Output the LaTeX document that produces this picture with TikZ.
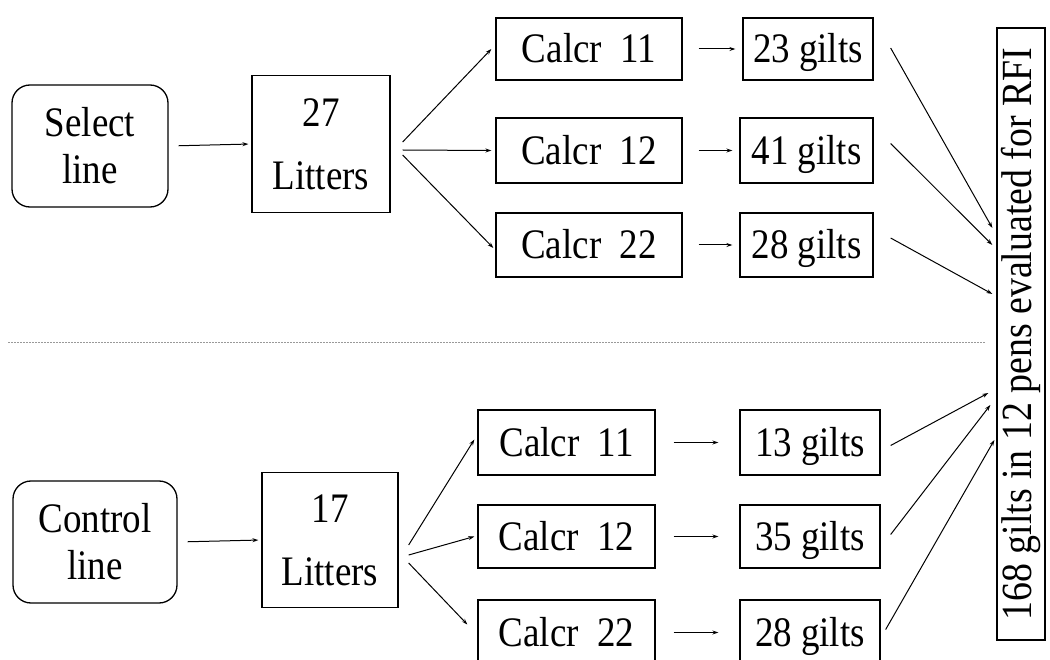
\documentclass[tikz,border=0pt]{standalone}
\usepackage{fontspec}
\setmainfont{Liberation Serif}
\newfontfamily\bxfont{Liberation Serif}[FakeStretch=0.88]
\usetikzlibrary{arrows.meta,calc}
\begin{document}
\begin{tikzpicture}[x=1pt,y=-1pt,
  box/.style={draw,line width=1.3pt,inner sep=0pt,font=\bxfont\fontsize{42}{47}\selectfont,text height=28pt,text depth=0pt},
  mbox/.style={draw,line width=1.3pt,inner sep=0pt,align=center},
  rbox/.style={mbox,rounded corners=18pt,font=\bxfont\fontsize{42}{47}\selectfont},
  lbox/.style={mbox,font=\bxfont\fontsize{42}{63}\selectfont},
  arr/.style={line width=1pt,-{Stealth[length=6pt,width=4pt]}},
  sep/.style={gray!80,line width=1pt,dash pattern=on 1.5pt off 1.5pt}]
\useasboundingbox (0,0) rectangle (1050,660);
\clip (0,0) rectangle (1050,660);
% Select line section
\node[rbox,minimum width=156,minimum height=122] (sel) at (90,146) {Select\\line};
\node[lbox,minimum width=138,minimum height=137] (lit1) at (321,144) {27\\Litters};
\node[box,minimum width=186,minimum height=62] (sa) at (589,49) {Calcr~~11};
\node[box,minimum width=186,minimum height=65] (sb) at (589,150.5) {Calcr~~12};
\node[box,minimum width=186,minimum height=64] (sc) at (589,245) {Calcr~~22};
\node[box,minimum width=130,minimum height=62] (ga) at (808,49) {23 gilts};
\node[box,minimum width=133,minimum height=65] (gb) at (806.5,150.5) {41 gilts};
\node[box,minimum width=133,minimum height=64] (gc) at (806.5,245) {28 gilts};
% Control line section
\node[rbox,minimum width=164,minimum height=122] (con) at (95,542) {Control\\line};
\node[lbox,minimum width=136,minimum height=135] (lit2) at (330,540) {17\\Litters};
\node[box,minimum width=177,minimum height=65] (ca) at (566.5,442.5) {Calcr~~11};
\node[box,minimum width=177,minimum height=63] (cb) at (566.5,536.5) {Calcr~~12};
\node[box,minimum width=177,minimum height=65] (cc) at (566.5,632.5) {Calcr~~22};
\node[box,minimum width=140,minimum height=65] (ha) at (810,442.5) {13 gilts};
\node[box,minimum width=140,minimum height=63] (hb) at (810,536.5) {35 gilts};
\node[box,minimum width=140,minimum height=65] (hc) at (810,632.5) {28 gilts};
% Right box
\node[box,rotate=90,minimum width=612,minimum height=48,font=\bxfont\fontsize{43}{50}\selectfont,text height=29pt,text depth=9pt] (rfi) at (1021,334) {168 gilts in 12 pens evaluated for RFI};
% separator
\coordinate (l) at (8,343);
\coordinate (r) at (985,343);
\draw[sep] (l) -- (r);
% arrows top
\draw[arr,shorten <=10pt,shorten >=3pt] (sel.east) -- (lit1.west);
\draw[arr] ($(lit1.east)+(12,-2)$) -- ($(sa.west)+(-4,0)$);
\draw[arr] ($(lit1.east)+(12,6)$) -- ($(sb.west)+(-4,0)$);
\draw[arr] ($(lit1.east)+(12,11)$) -- ($(sc.west)+(-2,3)$);
\draw[arr,shorten <=16pt,shorten >=7pt] (sa.east) -- (ga.west);
\draw[arr,shorten <=16pt,shorten >=7pt] (sb.east) -- (gb.west);
\draw[arr,shorten <=16pt,shorten >=7pt] (sc.east) -- (gc.west);
\draw[arr] ($(ga.east)+(17,-1)$) -- ($(rfi.north)+(-4,-106)$);
\draw[arr] ($(gb.east)+(17,-7)$) -- ($(rfi.north)+(-4,-89)$);
\draw[arr] ($(gc.east)+(17,-7)$) -- ($(rfi.north)+(-4,-40)$);
% arrows bottom
\draw[arr,shorten <=10pt,shorten >=3pt] (con.east) -- (lit2.west);
\draw[arr] ($(lit2.east)+(10,5)$) -- ($(ca.west)+(-3,-3)$);
\draw[arr] ($(lit2.east)+(10,15)$) -- ($(cb.west)+(-3,0)$);
\draw[arr] ($(lit2.east)+(10,23)$) -- ($(cc.west)+(-10,-8)$);
\draw[arr,shorten <=18pt,shorten >=21pt] (ca.east) -- (ha.west);
\draw[arr,shorten <=18pt,shorten >=21pt] (cb.east) -- (hb.west);
\draw[arr,shorten <=18pt,shorten >=21pt] (cc.east) -- (hc.west);
\draw[arr] ($(ha.east)+(10,3)$) -- ($(rfi.north)+(-8,59)$);
\draw[arr] ($(hb.east)+(10,-2)$) -- ($(rfi.north)+(-6,71)$);
\draw[arr] ($(hc.east)+(5,-3)$) -- ($(rfi.north)+(-2,106)$);
\end{tikzpicture}
\end{document}
